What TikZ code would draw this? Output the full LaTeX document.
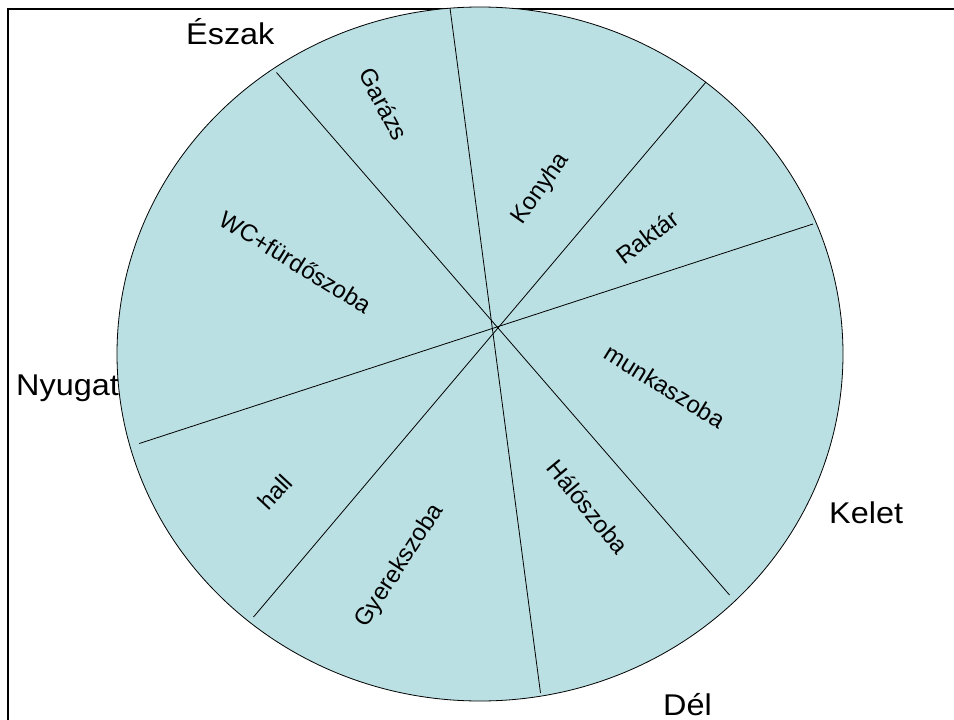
\documentclass[tikz,border=0pt]{standalone}
\usepackage{fontspec}
\setmainfont{Liberation Sans}
\newfontfamily\lblfont[FakeStretch=1.08]{Liberation Sans}
\definecolor{roomfill}{RGB}{186,224,227}
\begin{document}
\begin{tikzpicture}[x=1pt,y=-1pt,
  frame/.style={line width=2pt,black},
  wall/.style={line width=0.8pt,black},
  dir/.style={font=\lblfont\fontsize{30}{35}\selectfont,inner sep=0pt,anchor=base west},
  room/.style={font=\fontsize{24}{28}\selectfont,inner sep=0pt}]
\useasboundingbox (0,0) rectangle (954,720);
% frame (top and left edges visible)
\draw[frame] (954,9) -- (8,9) -- (8,720);
% plan outline
\draw[wall,fill=roomfill] (480,354) ellipse [x radius=363, y radius=347];
% partition walls
\coordinate (a1) at (450,8);     \coordinate (a2) at (540.5,693);
\coordinate (b1) at (276.5,72.5); \coordinate (b2) at (729.5,595);
\coordinate (c1) at (706,82);    \coordinate (c2) at (253.5,617);
\coordinate (d1) at (813,224);   \coordinate (d2) at (139.3,443.5);
\draw[wall] (a1) -- (a2);
\draw[wall] (b1) -- (b2);
\draw[wall] (c1) -- (c2);
\draw[wall] (d1) -- (d2);
% rooms
\node[room,rotate=-62] (garazs) at (384,104) {Garázs};
\node[room,rotate=55] (konyha) at (541,189) {Konyha};
\node[room,rotate=37] (raktar) at (647,237) {Raktár};
\node[room,rotate=-31.7] (wc) at (296,262) {WC+fürdőszoba};
\node[room,rotate=-31.7] (munka) at (665,386) {munkaszoba};
\node[room,rotate=-50.5] (halo) at (588,507) {Hálószoba};
\node[room,rotate=57] (gyerek) at (400,566) {Gyerekszoba};
\node[room,rotate=47] (hall) at (275,492) {hall};
% directions
\node[dir] (eszak) at (186,44) {Észak};
\node[dir] (nyugat) at (16,395) {Nyugat};
\node[dir] (kelet) at (829,523) {Kelet};
\node[dir] (del) at (663,715) {Dél};
\end{tikzpicture}
\end{document}
